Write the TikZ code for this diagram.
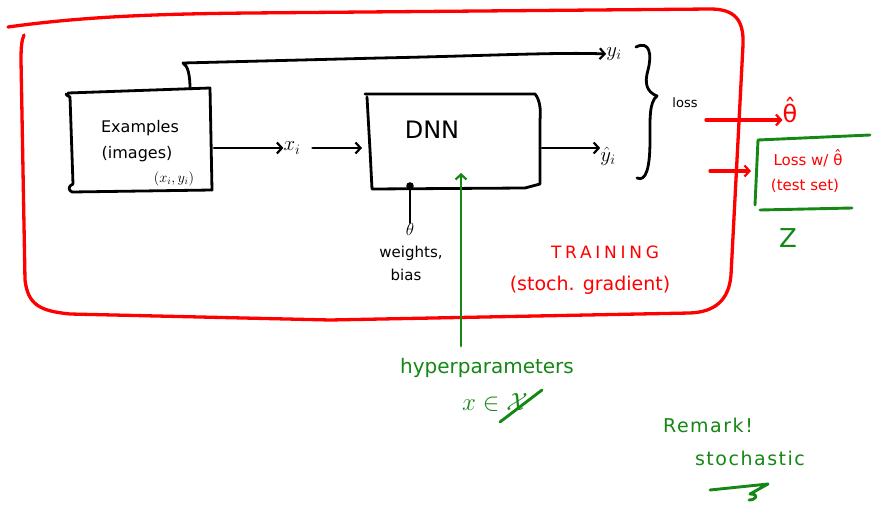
\documentclass[tikz,border=0pt]{standalone}
\usepackage{fontspec}
\setmainfont{DejaVu Sans}
\usetikzlibrary{arrows.meta}
\definecolor{penred}{RGB}{255,0,0}
\definecolor{pengreen}{RGB}{20,135,20}
\newcommand\mythetahat{\ooalign{θ\cr\hidewidth\raisebox{0.22em}{ˆ}\hidewidth}}
\begin{document}
\begin{tikzpicture}[x=1pt,y=-1pt,
  ink/.style={line width=2.8pt,line cap=round,line join=round},
  redink/.style={ink,penred,line width=3.3pt},
  greenink/.style={ink,pengreen,line width=2.9pt},
  tip/.style={-{Straight Barb[length=5pt,width=11pt,line width=2.2pt]}},
  lbl/.style={inner sep=0pt,font=\fontsize{15}{17}\selectfont},
  big/.style={inner sep=0pt,font=\fontsize{22}{24}\selectfont}]
\useasboundingbox (0,0) rectangle (879,506);
% red training frame
\draw[redink] (8,27) .. controls (80,17) and (150,14) .. (250,13) -- (710,9) .. controls (735,9) and (744,20) .. (743,45) -- (731,275) .. controls (729,300) and (715,312) .. (690,313) -- (330,320) -- (70,314) .. controls (40,311) and (28,305) .. (25,280) -- (21,60) .. controls (21,45) and (22,40) .. (24,35);
% Examples box
\draw[ink] (68,93) -- (210,88) -- (212,190) -- (72,192) .. controls (68,190) and (68,186) .. (73,184) -- (70,97) .. controls (68,96) and (66,95) .. (66,94);
\node[lbl,font=\fontsize{16}{18}\selectfont] (ex) at (140,128) {Examples};
\node[lbl,font=\fontsize{16}{18}\selectfont] (img) at (137,154) {(images)};
\node[lbl,font=\fontsize{14}{16}\selectfont] (xy) at (174,179) {$(x_i,y_i)$};
% DNN box
\draw[ink] (365,94) -- (535,94) .. controls (540,100) and (541,110) .. (540,120) -- (540,184) -- (525,188) -- (372,189) -- (370,150) -- (367,97);
\node[big,font=\fontsize{24}{26}\selectfont] (dnn) at (432,130) {DNN};
\coordinate (dnnbot) at (410,186);
% nodes
\node[big] (xi) at (292,148) {$x_i$};
\node[big] (yi) at (614,54) {$y_i$};
\node[big] (yhat) at (608,156) {$\hat y_i$};
\node[lbl,font=\fontsize{13}{15}\selectfont] (loss) at (685,103) {loss};
% arrows
\coordinate (exout) at (214,148);
\coordinate (extop) at (190,89);
\coordinate (dnnin) at (362,148);
\coordinate (dnnout) at (542,148);
\draw[ink,tip] (exout) -- (exout -| xi.west);
\draw[ink,tip] ([xshift=12pt]dnnin -| xi.east) -- (dnnin);
\draw[ink,tip] (dnnout) -- (dnnout -| yhat.west);
\draw[ink,tip] (extop) .. controls (190,75) and (188,66) .. (183,63) -- (380,58) .. controls (480,56) and (560,52) .. (yi.west);
% brace
\draw[ink] (636,47) .. controls (650,40) and (652,55) .. (648,70) .. controls (644,84) and (647,92) .. (657,96) .. controls (649,102) and (650,120) .. (650,140) .. controls (650,168) and (646,182) .. (637,178);
% theta
\fill (dnnbot) circle (3.8pt);
\node[lbl,font=\fontsize{16}{18}\selectfont] (theta) at (410,229) {$\theta$};
\draw[ink] (dnnbot) -- (theta.north);
\node[lbl] (wts) at (411,253) {weights,};
\node[lbl] (bias) at (406,275) {bias};
% training label
\node[lbl,penred,font=\fontsize{17}{19}\selectfont\addfontfeature{LetterSpace=22}] (train) at (605,252) {TRAINING};
\node[lbl,penred,font=\fontsize{19}{21}\selectfont] (stoch) at (590,285) {(stoch. gradient)};
% hyperparameters
\node[lbl,pengreen,font=\fontsize{20}{22}\selectfont] (hyp) at (487,368) {hyperparameters};
\node[lbl,pengreen,font=\fontsize{24}{26}\selectfont] (xin) at (495,402) {$x\in\mathcal{X}$};
\draw[greenink] (500,422) -- (542,390);
\coordinate (hyptop) at (461,346);
\draw[greenink,tip] (hyptop) -- (461,173);
% right side: theta hat and test loss
\node[big,penred,font=\fontsize{24}{26}\selectfont] (thhat) at (790,113) {\mythetahat};
\coordinate (thin) at (thhat.west |- 0,120);
\draw[redink,tip] (706,120) -- (thin);
\coordinate (lossin) at (751,171);
\draw[redink,tip] (710,171) -- (lossin);
\draw[greenink] (870,135) -- (758,140) -- (755,205);
\draw[greenink] (760,210) -- (852,208);
\node[lbl,penred,font=\fontsize{15}{17}\selectfont] (lw) at (808,160) {Loss w/ \mythetahat};
\node[lbl,penred,font=\fontsize{15}{17}\selectfont] (ts) at (805,186) {(test set)};
\node[big,pengreen,font=\fontsize{26}{28}\selectfont] (z) at (788,238) {Z};
% remark
\node[lbl,pengreen,font=\fontsize{19}{21}\selectfont\addfontfeature{LetterSpace=8}] (rem) at (708,425) {Remark!};
\node[lbl,pengreen,font=\fontsize{19}{21}\selectfont\addfontfeature{LetterSpace=8}] (sto) at (750,458) {stochastic};
\draw[greenink] (710,490) -- (768,484) -- (750,494) .. controls (760,494) and (756,500) .. (749,500);
\end{tikzpicture}
\end{document}
